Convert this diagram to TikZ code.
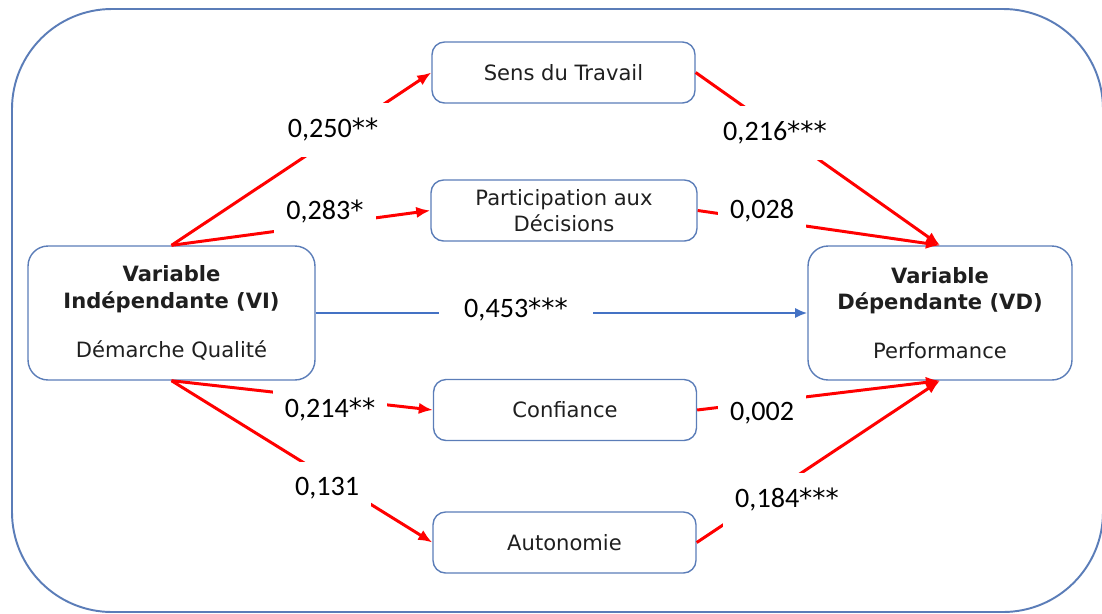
\documentclass[tikz,border=0pt]{standalone}
\usepackage{fontspec}
\setmainfont{DejaVu Sans}
\newfontfamily\coeffont{Carlito}
\newfontfamily\starfont{DejaVu Sans}
\usepackage{xcolor}
\usetikzlibrary{arrows.meta}
\definecolor{boxblue}{HTML}{5B7DB8}
\definecolor{lineblue}{HTML}{4472C4}
\newcommand{\stars}[1]{{\starfont\fontsize{15}{18}\selectfont #1}}

\begin{document}
\begin{tikzpicture}[x=0.02cm, y=-0.02cm,
  var/.style={draw=boxblue, line width=0.8pt, rounded corners=0.25cm, minimum width=5.26cm, minimum height=1.22cm, align=center, text=black!88, font=\fontsize{12}{15}\selectfont},
  bigvar/.style={var, rounded corners=0.4cm, minimum width=5.74cm, minimum height=2.68cm},
  redarrow/.style={draw=red, line width=1.7pt, -{Latex[length=8pt,width=6.5pt]}},
  bluearrow/.style={draw=lineblue, line width=1.6pt, -{Latex[length=7pt,width=6pt]}},
  coef/.style={fill=white, inner xsep=0.24cm, inner ysep=0.3cm, font=\coeffont\fontsize{16}{18}\selectfont}]
\useasboundingbox (0,0) rectangle (1102,613);
\draw[boxblue, line width=1.1pt, rounded corners=2cm] (12,9) rectangle (1103,612);

\node[bigvar] (vi) at (171.5,313) {\textbf{Variable}\\\textbf{Indépendante (VI)}\\[13pt]Démarche Qualité};
\node[bigvar, minimum width=5.28cm] (vd) at (940,313) {\textbf{Variable}\\\textbf{Dépendante (VD)}\\[13pt]Performance};
\node[var] (sens) at (563.5,72.5) {Sens du Travail};
\node[var, minimum width=5.32cm] (part) at (564,210.5) {Participation aux\\Décisions};
\node[var] (conf) at (565,410) {Confiance};
\node[var] (auto) at (564.5,542.5) {Autonomie};

\draw[redarrow] (vi.north) -- (sens.west);
\draw[redarrow] (vi.north) -- (part.west);
\draw[redarrow] (vi.south) -- (conf.west);
\draw[redarrow] (vi.south) -- (auto.west);
\draw[redarrow] (sens.east) -- (vd.north);
\draw[redarrow] (part.east) -- (vd.north);
\draw[redarrow] (conf.east) -- (vd.south);
\draw[redarrow] (auto.east) -- (vd.south);
\draw[bluearrow] (vi.east) -- (vd.west);

\node[coef] (c1) at (333,130) {0,250\stars{**}};
\node[coef] (c2) at (325,212) {0,283\stars{*}};
\node[coef] (c3) at (330,410) {0,214\stars{**}};
\node[coef] (c4) at (327,488) {0,131};
\node[coef] (c5) at (775,133) {0,216\stars{***}};
\node[coef] (c6) at (762,211) {0,028};
\node[coef] (c7) at (762,413) {0,002};
\node[coef] (c8) at (787,500) {0,184\stars{***}};
\node[coef, inner xsep=0.5cm] (c9) at (516,310) {0,453\stars{***}};
\end{tikzpicture}
\end{document}
